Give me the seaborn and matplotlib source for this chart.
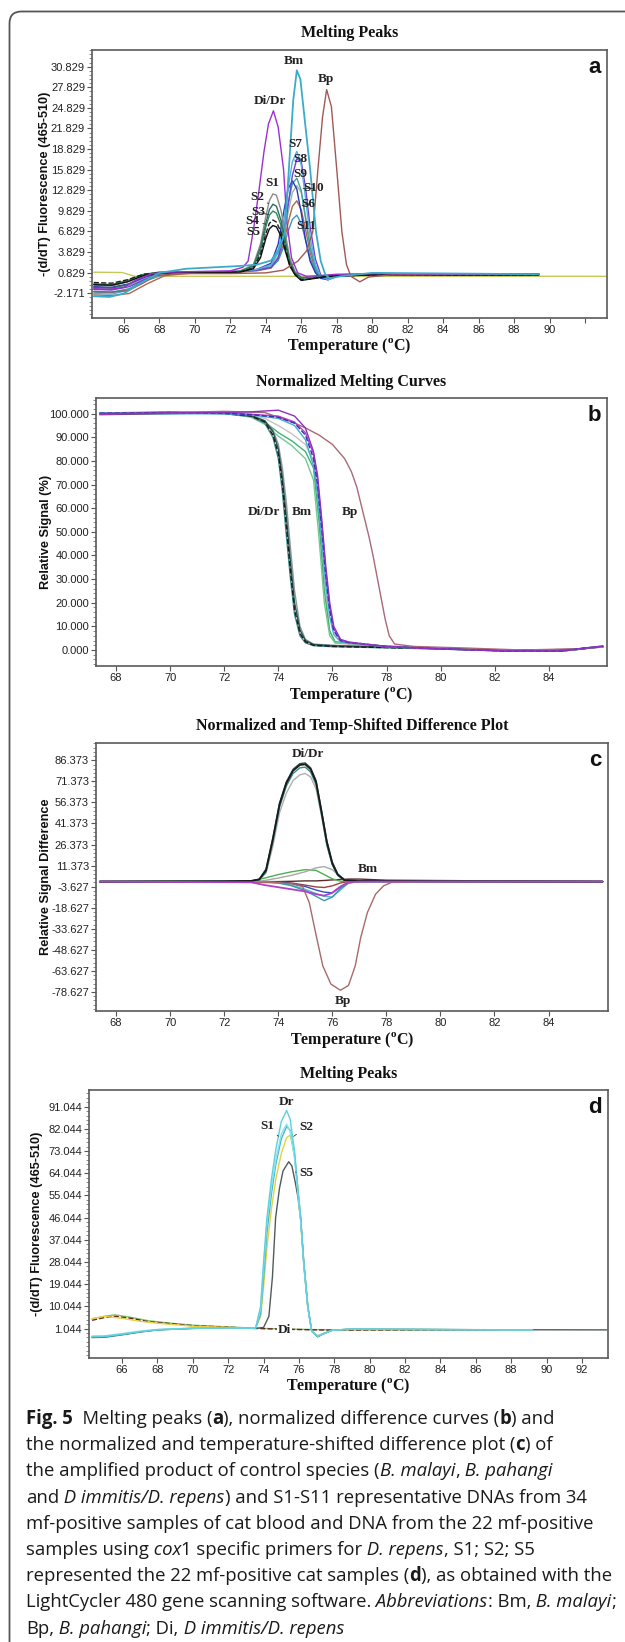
import matplotlib
matplotlib.use('Agg')
import matplotlib.pyplot as plt
import matplotlib.transforms as mtransforms
from matplotlib.patches import FancyBboxPatch
from matplotlib.ticker import AutoMinorLocator
import seaborn as sns

sns.set_style('white')
plt.rcParams['font.family'] = ['Liberation Sans', 'DejaVu Sans']
plt.rcParams['axes.unicode_minus'] = False
plt.rcParams['mathtext.fontset'] = 'custom'
plt.rcParams['mathtext.rm'] = 'Liberation Serif:bold'
plt.rcParams['mathtext.bf'] = 'Liberation Serif:bold'

W, H = 625, 1642

# ---------------- panel a : melting peaks ----------------
a_xticks = [66, 68, 70, 72, 74, 76, 78, 80, 82, 84, 86, 88, 90, 92]
a_xticklabels = ['66', '68', '70', '72', '74', '76', '78', '80', '82', '84', '86', '88', '90', '']
a_yticks = [-2.171, 0.829, 3.829, 6.829, 9.829, 12.829, 15.829, 18.829, 21.829, 24.829, 27.829, 30.829]

a_didr_t = [64.3, 65.2, 66.0, 66.8, 67.6, 68.5, 70.0, 72.0, 72.7, 73.0, 73.3, 73.6, 73.9, 74.15, 74.43, 74.7, 75.0, 75.2, 75.45, 75.8, 76.3, 77.0, 78.0, 80.0, 85.0, 89.4]
a_didr_v = [-1.5, -1.6, -1.3, -0.1, 0.7, 0.9, 1.0, 1.1, 1.6, 2.5, 7.0, 12.5, 18.5, 22.5, 24.4, 22.0, 15.9, 8.0, 3.0, 0.8, 0.3, 0.4, 0.6, 0.7, 0.6, 0.6]

a_bm_t = [64.3, 65.2, 66.0, 67.0, 68.0, 69.5, 71.0, 72.5, 73.5, 74.3, 74.8, 75.08, 75.3, 75.55, 75.75, 75.95, 76.2, 76.5, 76.83, 77.1, 77.35, 77.6, 78.2, 80.0, 85.0, 89.4]
a_bm_v = [-2.6, -2.7, -2.2, -0.6, 0.8, 1.4, 1.6, 1.8, 2.0, 2.6, 4.5, 6.8, 15.9, 26.0, 30.3, 29.0, 23.0, 15.9, 6.8, 2.5, 0.6, 0.0, 0.3, 0.8, 0.7, 0.6]

a_bp_t = [64.3, 65.2, 66.2, 67.0, 67.8, 69.0, 72.0, 74.0, 75.0, 75.8, 76.3, 76.65, 76.94, 77.2, 77.43, 77.7, 78.0, 78.29, 78.55, 78.8, 79.3, 79.8, 81.0, 85.0, 89.4]
a_bp_v = [-1.9, -2.0, -1.8, -0.8, 0.4, 0.7, 0.7, 0.8, 1.2, 2.5, 4.0, 6.8, 15.9, 23.5, 27.5, 25.0, 15.9, 6.8, 2.0, 0.3, -0.5, 0.2, 0.5, 0.6, 0.6]

a_left_t = [64.3, 65.3, 66.2, 67.1, 68.0, 70.0, 72.5, 73.3, 73.7, 74.0, 74.2, 74.4, 74.6, 74.85, 75.1, 75.35, 75.65, 76.0, 76.5, 77.5, 80.0, 85.0, 89.4]
a_s1_v = [-1.0, -1.1, -0.5, 0.5, 0.9, 0.9, 1.0, 2.0, 5.0, 9.0, 11.3, 12.3, 12.1, 10.0, 6.5, 3.0, 1.0, 0.2, 0.1, 0.4, 0.6, 0.6, 0.6]
a_s2_v = [-1.3, -1.4, -0.9, 0.3, 0.8, 0.9, 1.0, 1.8, 4.5, 8.0, 10.0, 10.8, 10.5, 8.5, 5.5, 2.5, 0.8, 0.1, 0.1, 0.4, 0.6, 0.6, 0.6]
a_s3_v = [-0.8, -0.9, -0.3, 0.6, 0.9, 0.9, 1.0, 1.6, 4.0, 7.5, 9.2, 9.8, 9.5, 7.8, 5.0, 2.3, 0.7, 0.0, 0.1, 0.4, 0.5, 0.5, 0.5]
a_s4_v = [-0.6, -0.7, -0.2, 0.6, 0.8, 0.8, 0.9, 1.5, 3.5, 6.5, 8.0, 8.5, 8.2, 6.8, 4.5, 2.0, 0.6, -0.2, -0.1, 0.3, 0.5, 0.5, 0.5]
a_s5_v = [-0.9, -1.0, -0.5, 0.4, 0.8, 0.8, 0.9, 1.4, 3.0, 5.8, 7.2, 7.7, 7.5, 6.2, 4.0, 1.8, 0.5, -0.3, -0.1, 0.3, 0.5, 0.5, 0.5]

a_right_t = [64.3, 65.3, 66.3, 67.3, 68.3, 70.0, 72.5, 73.5, 74.3, 74.7, 75.0, 75.25, 75.5, 75.75, 76.0, 76.25, 76.5, 76.8, 77.1, 77.5, 78.0, 80.0, 85.0, 89.4]
a_s6_v = [-2.4, -2.5, -2.2, -0.8, 0.4, 0.8, 0.9, 1.1, 1.5, 2.8, 5.0, 8.0, 10.5, 11.3, 10.0, 7.0, 3.8, 1.2, 0.1, 0.0, 0.3, 0.6, 0.6, 0.6]
a_s7_v = [-2.2, -2.3, -1.7, -0.2, 0.7, 0.9, 1.0, 1.3, 2.0, 4.0, 8.0, 13.0, 17.0, 18.5, 16.5, 11.5, 6.0, 2.0, 0.3, -0.2, 0.3, 0.6, 0.6, 0.6]
a_s8_v = [-1.6, -1.7, -1.2, 0.0, 0.7, 0.9, 1.0, 1.2, 1.6, 3.0, 6.0, 10.5, 15.0, 17.4, 17.0, 13.0, 7.5, 2.8, 0.5, -0.2, 0.3, 0.6, 0.6, 0.6]
a_s9_v = [-1.9, -2.0, -1.5, -0.1, 0.7, 0.9, 1.0, 1.3, 2.0, 3.8, 7.0, 10.8, 13.8, 14.6, 12.8, 8.5, 4.5, 1.5, 0.2, 0.0, 0.3, 0.6, 0.6, 0.6]
a_s10_v = [-1.4, -1.5, -1.0, 0.1, 0.7, 0.9, 1.0, 1.2, 1.8, 3.2, 6.0, 9.5, 12.5, 13.5, 12.5, 9.0, 5.0, 1.8, 0.3, 0.0, 0.3, 0.6, 0.6, 0.6]
a_s11_v = [-2.0, -2.1, -1.6, -0.3, 0.6, 0.9, 1.0, 1.2, 1.6, 2.6, 4.5, 6.8, 8.6, 9.2, 8.0, 5.5, 3.0, 1.0, 0.1, 0.0, 0.3, 0.6, 0.6, 0.6]
a_blue_v = [-1.2, -1.3, -0.8, 0.3, 0.8, 0.9, 1.0, 1.3, 2.2, 5.0, 9.5, 13.0, 14.2, 13.0, 9.5, 5.5, 2.5, 0.8, 0.0, -0.2, 0.3, 0.6, 0.6, 0.6]

a_flat_t = [64.3, 65.9, 66.6, 93.2]
a_flat_v = [0.9, 0.85, 0.3, 0.3]

# ---------------- panel b : normalized melting curves ----------------
b_xticks = [68, 70, 72, 74, 76, 78, 80, 82, 84]
b_yticks = [0.0, 10.0, 20.0, 30.0, 40.0, 50.0, 60.0, 70.0, 80.0, 90.0, 100.0]

b_didr_t = [67.4, 70.0, 72.0, 73.0, 73.5, 73.8, 74.0, 74.15, 74.3, 74.45, 74.6, 74.8, 75.0, 75.3, 76.0, 78.0, 80.0, 82.5, 85.0, 86.0]
b_black_v = [100.0, 100.3, 100.2, 99.0, 96.5, 91.0, 83.0, 70.0, 52.0, 33.0, 17.0, 7.0, 3.5, 2.0, 1.5, 1.0, 0.5, -0.3, 0.2, 1.5]
b_slate_v = [99.6, 100.0, 100.4, 99.2, 97.0, 92.5, 85.0, 73.0, 56.0, 37.0, 20.0, 8.5, 4.0, 2.3, 1.8, 1.2, 0.6, -0.2, 0.3, 1.6]
b_teal_v = [100.2, 100.6, 100.0, 98.8, 96.0, 90.0, 81.0, 67.0, 48.0, 30.0, 15.0, 6.0, 3.0, 1.8, 1.4, 0.9, 0.4, -0.4, 0.1, 1.4]
b_gray_v = [100.0, 100.2, 100.0, 99.0, 97.0, 93.0, 87.0, 77.0, 62.0, 43.0, 25.0, 10.0, 4.5, 2.5, 2.0, 1.2, 0.5, -0.3, 0.2, 1.4]

b_green_t = [67.4, 70.0, 72.0, 73.0, 73.5, 74.0, 74.5, 75.0, 75.3, 75.5, 75.7, 75.9, 76.1, 76.5, 77.5, 80.0, 82.5, 85.0, 86.0]
b_green1_v = [100.3, 100.8, 100.5, 99.0, 96.5, 92.0, 88.5, 84.0, 77.0, 55.0, 25.0, 8.0, 3.5, 3.0, 2.0, 0.6, -0.3, 0.2, 1.4]
b_green2_v = [100.0, 100.4, 100.2, 98.5, 95.5, 90.5, 86.5, 81.0, 72.0, 48.0, 20.0, 6.0, 3.0, 2.8, 1.8, 0.5, -0.3, 0.2, 1.4]
b_lgray_v = [100.0, 100.3, 100.2, 99.5, 98.0, 95.0, 91.5, 87.0, 80.0, 62.0, 30.0, 8.0, 3.0, 2.5, 1.8, 0.5, -0.3, 0.2, 1.4]

b_bm_t = [67.4, 70.0, 72.0, 73.0, 74.0, 74.6, 75.0, 75.3, 75.45, 75.6, 75.75, 75.9, 76.05, 76.3, 76.6, 77.0, 78.0, 80.0, 82.5, 84.5, 85.3, 86.0]
b_blue_v = [100.2, 100.5, 100.2, 99.6, 98.5, 96.0, 91.0, 81.0, 70.0, 52.0, 32.0, 17.0, 8.0, 4.0, 3.2, 2.8, 1.5, 0.5, -0.5, -0.5, 0.8, 1.6]
b_purple_v = [100.0, 100.4, 100.5, 100.8, 101.5, 99.0, 94.0, 84.0, 74.0, 56.0, 36.0, 20.0, 10.0, 4.5, 3.4, 2.8, 1.5, 0.5, -0.4, -0.4, 0.8, 1.7]
b_magenta_v = [99.8, 100.2, 100.3, 99.8, 99.0, 96.5, 92.0, 83.0, 72.0, 54.0, 34.0, 18.0, 9.0, 4.0, 3.0, 2.6, 1.4, 0.4, -0.5, -0.5, 0.7, 1.5]
b_cyan_v = [100.3, 100.0, 100.0, 99.5, 98.0, 95.0, 89.0, 78.0, 66.0, 47.0, 28.0, 14.0, 6.5, 3.5, 3.0, 2.6, 1.3, 0.4, -0.5, -0.5, 0.7, 1.5]

b_bp_t = [67.4, 70.0, 72.0, 73.5, 74.0, 74.5, 75.0, 75.5, 76.0, 76.45, 76.7, 76.9, 77.05, 77.2, 77.35, 77.5, 77.65, 77.8, 77.95, 78.1, 78.3, 79.0, 81.0, 83.0, 85.0, 86.0]
b_bp_v = [100.3, 100.5, 101.0, 100.5, 98.5, 96.5, 94.0, 91.0, 87.0, 81.0, 75.5, 69.0, 62.0, 55.0, 48.0, 40.0, 31.0, 22.0, 13.0, 6.0, 2.5, 1.5, 0.8, 0.0, 0.5, 1.2]

# ---------------- panel c : difference plot ----------------
c_xticks = [68, 70, 72, 74, 76, 78, 80, 82, 84]
c_yticks = [-78.627, -63.627, -48.627, -33.627, -18.627, -3.627, 11.373, 26.373, 41.373, 56.373, 71.373, 86.373]

c_didr_t = [67.4, 72.0, 73.0, 73.3, 73.55, 73.8, 74.05, 74.3, 74.55, 74.8, 75.0, 75.2, 75.4, 75.6, 75.8, 76.0, 76.2, 76.45, 77.0, 80.0, 86.0]
c_black_v = [0.0, 0.2, 0.5, 1.5, 8.0, 30.0, 55.0, 70.0, 79.0, 83.0, 83.5, 80.0, 71.0, 50.0, 28.0, 13.0, 5.0, 1.0, 0.5, 0.2, 0.0]
c_slate_v = [0.0, 0.2, 0.5, 1.8, 9.0, 31.0, 56.0, 71.0, 80.0, 84.0, 84.5, 81.0, 72.0, 51.0, 29.0, 14.0, 5.5, 1.2, 0.5, 0.2, 0.0]
c_teal_v = [0.0, 0.2, 0.4, 1.2, 7.0, 28.0, 53.0, 68.0, 77.0, 81.0, 81.5, 78.0, 69.0, 48.0, 26.0, 12.0, 4.5, 0.8, 0.4, 0.2, 0.0]
c_gray_v = [0.0, 0.2, 0.4, 1.2, 6.0, 25.0, 49.0, 63.0, 72.0, 76.0, 77.0, 74.5, 66.0, 47.0, 26.0, 12.0, 4.5, 0.8, 0.4, 0.2, 0.0]

c_small_t = [67.4, 73.0, 73.5, 74.0, 74.5, 75.0, 75.4, 75.7, 76.0, 76.3, 76.6, 77.0, 78.0, 86.0]
c_green_v = [0.0, 0.3, 2.5, 5.0, 7.0, 8.5, 8.0, 5.0, 2.0, 0.3, 0.0, 0.0, 0.0, 0.0]
c_lgray_v = [0.0, 0.2, 0.8, 2.5, 4.5, 7.0, 9.8, 10.7, 8.5, 3.5, 0.5, 0.0, 0.0, 0.0]
c_dark_v = [0.0, 0.0, 0.0, 0.0, 0.2, 0.5, 0.5, 0.8, 1.2, 1.5, 1.8, 1.8, 1.0, 0.0]
c_purple_v = [0.0, -0.5, -2.5, -4.0, -5.5, -7.0, -9.0, -10.0, -8.0, -3.5, -0.5, 0.0, 0.0, 0.0]
c_tealn_v = [0.0, 0.0, -0.3, -1.0, -3.0, -6.5, -10.5, -13.6, -11.0, -5.0, -1.0, 0.0, 0.0, 0.0]
c_cyan_v = [0.0, 0.0, -0.2, -0.8, -2.5, -5.5, -8.5, -10.5, -11.0, -6.0, -1.0, 0.0, 0.0, 0.0]
c_red_v = [0.0, 0.0, 0.0, -0.3, -1.0, -2.5, -3.8, -4.2, -3.0, -1.0, 0.0, 0.0, 0.0, 0.0]
c_blue_v = [0.0, 0.0, -0.2, -0.5, -1.5, -3.5, -6.0, -7.5, -8.0, -4.0, -0.8, 0.0, 0.0, 0.0]

c_bp_t = [67.4, 72.0, 74.0, 74.5, 74.9, 75.15, 75.4, 75.65, 75.95, 76.3, 76.6, 76.85, 77.05, 77.3, 77.6, 77.9, 78.2, 79.0, 86.0]
c_bp_v = [0.0, -0.3, -0.8, -1.5, -3.5, -15.0, -38.0, -60.0, -73.0, -77.4, -74.0, -60.0, -40.0, -22.0, -9.0, -3.0, -0.5, 0.0, 0.0]

# ---------------- panel d : melting peaks (cox1) ----------------
d_xticks = [66, 68, 70, 72, 74, 76, 78, 80, 82, 84, 86, 88, 90, 92]
d_yticks = [1.044, 10.044, 19.044, 28.044, 37.044, 46.044, 55.044, 64.044, 73.044, 82.044, 91.044]

d_peak_t = [64.3, 65.0, 66.0, 67.0, 68.0, 70.0, 72.0, 73.0, 73.55, 73.83, 74.0, 74.19, 74.45, 74.7, 75.0, 75.3, 75.5, 75.75, 75.95, 76.1, 76.27, 76.5, 76.72, 77.06, 77.4, 77.9, 79.0, 85.0, 89.2]
d_dr_v = [-2.2, -2.1, -1.2, -0.2, 0.6, 1.2, 1.4, 1.2, 1.3, 10.0, 28.0, 46.0, 62.0, 74.0, 85.0, 89.5, 86.0, 73.0, 57.0, 46.0, 28.0, 10.0, 0.0, -2.1, -1.0, 0.4, 0.8, 0.6, 0.5]
d_s1_v = [-2.0, -1.9, -1.0, 0.0, 0.7, 1.2, 1.4, 1.2, 1.3, 9.0, 26.0, 44.0, 59.0, 70.0, 80.0, 84.0, 81.0, 70.0, 55.0, 44.0, 27.0, 9.5, 0.0, -2.0, -1.0, 0.4, 0.8, 0.6, 0.5]
d_s2_v = [-2.4, -2.3, -1.4, -0.3, 0.5, 1.1, 1.4, 1.2, 1.2, 7.0, 22.0, 40.0, 56.0, 68.0, 78.0, 83.0, 81.5, 71.0, 56.0, 45.0, 27.0, 9.5, 0.0, -2.2, -1.0, 0.4, 0.8, 0.6, 0.5]
d_yellow_v = [5.0, 6.0, 5.2, 4.0, 3.2, 2.0, 1.5, 1.2, 1.2, 6.0, 18.0, 34.0, 50.0, 62.0, 72.0, 78.5, 79.5, 72.0, 57.0, 46.0, 28.0, 10.0, 0.0, -1.8, -0.8, 0.4, 0.8, 0.6, 0.5]

d_s5_t = [64.3, 65.0, 66.0, 67.0, 68.0, 70.0, 72.0, 73.0, 73.55, 74.0, 74.3, 74.5, 74.68, 74.9, 75.1, 75.42, 75.6, 75.8, 75.95, 76.1, 76.27, 76.5, 76.72, 77.06, 77.4, 77.9, 79.0, 85.0, 93.4]
d_s5_v = [-2.6, -2.5, -1.5, -0.4, 0.5, 1.1, 1.4, 1.2, 1.1, 1.5, 6.0, 22.0, 46.0, 58.0, 65.0, 68.7, 67.0, 60.0, 54.0, 45.0, 28.0, 10.0, 0.0, -2.3, -1.0, 0.4, 0.8, 0.6, 0.5]

d_di_t = [64.3, 65.0, 65.6, 66.5, 67.5, 68.5, 70.0, 72.0, 73.5, 75.0, 77.0, 78.0, 80.0, 87.3]
d_di_v = [4.4, 5.5, 6.0, 5.2, 3.8, 3.2, 2.2, 1.6, 1.1, 0.8, 0.5, 0.4, 0.5, 0.5]
d_green_v = [5.0, 6.0, 6.6, 5.6, 4.2, 3.4, 2.4, 1.7, 1.2, 0.9, 0.6, 0.5, 0.5, 0.5]


def fx(px):
    return px / W


def fy(py):
    return 1 - py / H


def panel(l, t, r, b, xlim, ylim, xticks, xlabels, yticks, letter, title, title_y, ylabel, ylabel_x, xlabel_y):
    ax = fig.add_axes([fx(l), fy(b), (r - l) / W, (b - t) / H])
    ax.set_xlim(*xlim)
    ax.set_ylim(*ylim)
    ax.set_xticks(xticks)
    ax.set_xticklabels(xlabels)
    ax.set_yticks(yticks)
    ax.set_yticklabels(['{:.3f}'.format(v) for v in yticks])
    ax.yaxis.set_minor_locator(AutoMinorLocator(5))
    ax.tick_params(axis='both', which='major', direction='out', length=3.5, width=0.8,
                   color='#555555', labelsize=8, pad=1.5, labelcolor='#222222',
                   left=True, bottom=True)
    ax.tick_params(axis='y', which='minor', direction='out', length=2, width=0.6,
                   color='#777777', left=True)
    for lab in ax.get_xticklabels() + ax.get_yticklabels():
        lab.set_family(['Liberation Sans Narrow', 'Liberation Sans'])
    for s in ax.spines.values():
        s.set_color('#5a5a5a')
        s.set_linewidth(1.2)
    ax.text(0.988, 0.975, letter, transform=ax.transAxes, ha='right', va='top',
            fontsize=16, fontweight='bold', family='Liberation Sans', color='#111111')
    fig.text(fx((l + r) / 2), fy(title_y), title, ha='center', va='center', fontsize=11.5,
             fontweight='bold', family='Liberation Serif', color='#111111')
    fig.text(fx((l + r) / 2), fy(xlabel_y), r'Temperature ($^{\mathrm{o}}$C)', ha='center', va='center',
             fontsize=11.5, fontweight='bold', family='Liberation Serif', color='#111111')
    fig.text(fx(ylabel_x), fy((t + b) / 2), ylabel, rotation=90, ha='center', va='center',
             fontsize=9.2, fontweight='bold', family='Liberation Sans', color='#111111')
    ax.set_xlabel('')
    ax.set_ylabel('')
    return ax


def curve(ax, t, v, color, ls='-', lw=1.0):
    sns.lineplot(x=t, y=v, ax=ax, color=color, lw=lw, linestyle=ls, sort=False, estimator=None)


def label(ax, s, xt, yt, xy=None):
    kw = dict(ha='center', va='center', fontsize=9.5, fontweight='bold',
              family='Liberation Serif', color='#222222')
    if xy is None:
        ax.text(xt, yt, s, **kw)
    else:
        ax.annotate(s, xy=xy, xytext=(xt, yt),
                    arrowprops=dict(arrowstyle='-', lw=0.6, color='#333333', shrinkA=0, shrinkB=0), **kw)


fig = plt.figure(figsize=(W / 100, H / 100), dpi=100)
fig.patch.set_facecolor('white')

# rounded frame around the whole figure (cut at right / bottom)
frame = FancyBboxPatch((9.5, -40), 700, H - 11.5 + 40, boxstyle='round,pad=0,rounding_size=12',
                       transform=mtransforms.IdentityTransform(), fc='none', ec='#555555', lw=1.3)
fig.add_artist(frame)

# ---- a
ax = panel(92, 50, 607, 318, (64.2, 93.24), (-5.77, 33.26), a_xticks, a_xticklabels, a_yticks, 'a',
           'Melting Peaks', 33, '-(d/dT) Fluorescence (465-510)', 45, 346)
curve(ax, a_flat_t, a_flat_v, '#c8c85a')
curve(ax, a_right_t, a_s6_v, '#b3664f')
curve(ax, a_right_t, a_s10_v, '#9ab5a5')
curve(ax, a_right_t, a_s11_v, '#3a98c0')
curve(ax, a_right_t, a_s9_v, '#3fa3a0')
curve(ax, a_right_t, a_blue_v, '#2838b8')
curve(ax, a_right_t, a_s8_v, '#7040d0')
curve(ax, a_right_t, a_s7_v, '#55b0e0')
curve(ax, a_left_t, a_s1_v, '#8c8c8c')
curve(ax, a_left_t, a_s2_v, '#2e6b6b')
curve(ax, a_left_t, a_s3_v, '#2e8b57')
curve(ax, a_left_t, a_s4_v, '#1e1e1e', ls='--')
curve(ax, a_left_t, a_s5_v, '#101010')
curve(ax, a_bp_t, a_bp_v, '#a05a55')
curve(ax, a_didr_t, a_didr_v, '#9b30d0')
curve(ax, a_bm_t, a_bm_v, '#3cabc8', lw=1.3)
label(ax, 'Bm', 75.6, 31.6)
label(ax, 'Bp', 77.4, 29.1)
label(ax, 'Di/Dr', 74.25, 25.9)
label(ax, 'S7', 75.66, 19.5)
label(ax, 'S8', 75.95, 17.35)
label(ax, 'S9', 75.93, 15.16)
label(ax, 'S10', 76.7, 13.1, xy=(76.1, 13.1))
label(ax, 'S6', 76.4, 10.8, xy=(76.05, 10.6))
label(ax, 'S11', 76.3, 7.6)
label(ax, 'S1', 74.38, 13.85)
label(ax, 'S2', 73.5, 11.8, xy=(74.15, 10.9))
label(ax, 'S3', 73.6, 9.6, xy=(74.15, 9.3))
label(ax, 'S4', 73.25, 8.3, xy=(74.0, 7.9))
label(ax, 'S5', 73.3, 6.7, xy=(74.05, 6.3))

# ---- b
ax = panel(96, 398, 607, 666, (67.26, 86.15), (-6.78, 106.65), b_xticks, [str(v) for v in b_xticks], b_yticks, 'b',
           'Normalized Melting Curves', 382, 'Relative Signal (%)', 46, 695)
curve(ax, b_green_t, b_lgray_v, '#c4c4c4')
curve(ax, b_green_t, b_green1_v, '#3cb371')
curve(ax, b_green_t, b_green2_v, '#76c893')
curve(ax, b_didr_t, b_gray_v, '#8a9a9a')
curve(ax, b_didr_t, b_teal_v, '#3a8f8f')
curve(ax, b_didr_t, b_slate_v, '#2f4f4f')
curve(ax, b_didr_t, b_black_v, '#1a1a1a', ls='--')
curve(ax, b_bp_t, b_bp_v, '#a86a78')
curve(ax, b_bm_t, b_cyan_v, '#40b0d0')
curve(ax, b_bm_t, b_magenta_v, '#c040c0')
curve(ax, b_bm_t, b_blue_v, '#3030c0', ls='--')
curve(ax, b_bm_t, b_purple_v, '#9030c0')
label(ax, 'Di/Dr', 73.47, 58.2)
label(ax, 'Bm', 74.88, 58.2)
label(ax, 'Bp', 76.65, 58.2)

# ---- c
ax = panel(96, 743, 608, 1011, (67.26, 86.2), (-92.16, 98.7), c_xticks, [str(v) for v in c_xticks], c_yticks, 'c',
           'Normalized and Temp-Shifted Difference Plot', 726, 'Relative Signal Difference', 46, 1040)
curve(ax, c_small_t, c_dark_v, '#5a2a2a')
curve(ax, c_small_t, c_red_v, '#a04040')
curve(ax, c_small_t, c_blue_v, '#3050c0')
curve(ax, c_small_t, c_cyan_v, '#5ab8d8')
curve(ax, c_small_t, c_tealn_v, '#3a9aa8')
curve(ax, c_small_t, c_green_v, '#4caf50')
curve(ax, c_small_t, c_lgray_v, '#a8a8a8')
curve(ax, c_bp_t, c_bp_v, '#a86a6a')
curve(ax, c_didr_t, c_gray_v, '#b0b0b0')
curve(ax, c_didr_t, c_teal_v, '#3a8a8a')
curve(ax, c_didr_t, c_slate_v, '#2f4f4f')
curve(ax, c_didr_t, c_black_v, '#1a1a1a', lw=1.3)
curve(ax, c_small_t, c_purple_v, '#b040c8', lw=1.3)
label(ax, 'Di/Dr', 75.1, 90.6)
label(ax, 'Bm', 77.32, 9.1)
label(ax, 'Bp', 76.4, -85.0)

# ---- d
ax = panel(89, 1090, 608, 1358, (64.13, 93.47), (-10.9, 97.8), d_xticks, [str(v) for v in d_xticks], d_yticks, 'd',
           'Melting Peaks', 1074, '-(d/dT) Fluorescence (465-510)', 37, 1386)
curve(ax, d_di_t, d_green_v, '#7cc36a')
curve(ax, d_di_t, d_di_v, '#6b1f1f', ls='--')
curve(ax, d_peak_t, d_yellow_v, '#e8d040')
curve(ax, d_s5_t, d_s5_v, '#505a5a')
curve(ax, d_peak_t, d_s2_v, '#40b8c8')
curve(ax, d_peak_t, d_s1_v, '#8ee4ea')
curve(ax, d_peak_t, d_dr_v, '#5fd0e0')
label(ax, 'Dr', 75.3, 93.1)
label(ax, 'S1', 74.19, 83.2, xy=(74.85, 79.0))
label(ax, 'S2', 76.44, 82.9, xy=(75.7, 79.0))
label(ax, 'S5', 76.43, 64.0, xy=(75.8, 64.5))
ax.text(75.2, 0.4, 'Di', ha='center', va='center', fontsize=9.5, fontweight='bold',
        family='Liberation Serif', color='#222222',
        bbox=dict(fc='white', ec='none', pad=0.6))

# ---------------- caption ----------------
caption = [
    [('Fig. 5', 'b'), ('  Melting peaks (', 'n'), ('a', 'b'), ('), normalized difference curves (', 'n'), ('b', 'b'), (') and', 'n')],
    [('the normalized and temperature-shifted difference plot (', 'n'), ('c', 'b'), (') of', 'n')],
    [('the amplified product of control species (', 'n'), ('B. malayi', 'i'), (',', 'n'), (' B. pahangi', 'i')],
    [('and', 'n'), (' D immitis/D. repens', 'i'), (') and S1-S11 representative DNAs from 34', 'n')],
    [('mf-positive samples of cat blood and DNA from the 22 mf-positive', 'n')],
    [('samples using', 'n'), (' cox', 'i'), ('1 specific primers for', 'n'), (' D. repens', 'i'), (', S1; S2; S5', 'n')],
    [('represented the 22 mf-positive cat samples (', 'n'), ('d', 'b'), ('), as obtained with the', 'n')],
    [('LightCycler 480 gene scanning software.', 'n'), (' Abbreviations', 'i'), (': Bm,', 'n'), (' B. malayi', 'i'), (';', 'n')],
    [('Bp,', 'n'), (' B. pahangi', 'i'), ('; Di,', 'n'), (' D immitis/D. repens', 'i')],
]
cap_font = 'Open Sans'
renderer = fig.canvas.get_renderer()


def cap_kw(st, size):
    return dict(fontsize=size, family=cap_font, color='#1a1a1a',
                fontweight='bold' if st == 'b' else 'normal',
                fontstyle='italic' if st == 'i' else 'normal')


# fit the caption size so that the first line spans like the original
probe = 0
for txt, st in caption[0]:
    tt = fig.text(0, 0, txt, **cap_kw(st, 12))
    probe += tt.get_window_extent(renderer).width
    tt.remove()
cap_size = 12 * 528 / probe

for i, pieces in enumerate(caption):
    x = 26
    y = 1424 + 26.2 * i
    for txt, st in pieces:
        tt = fig.text(fx(x), fy(y), txt, ha='left', va='baseline', **cap_kw(st, cap_size))
        x += tt.get_window_extent(renderer).width

fig.savefig('out.png', dpi=100)
